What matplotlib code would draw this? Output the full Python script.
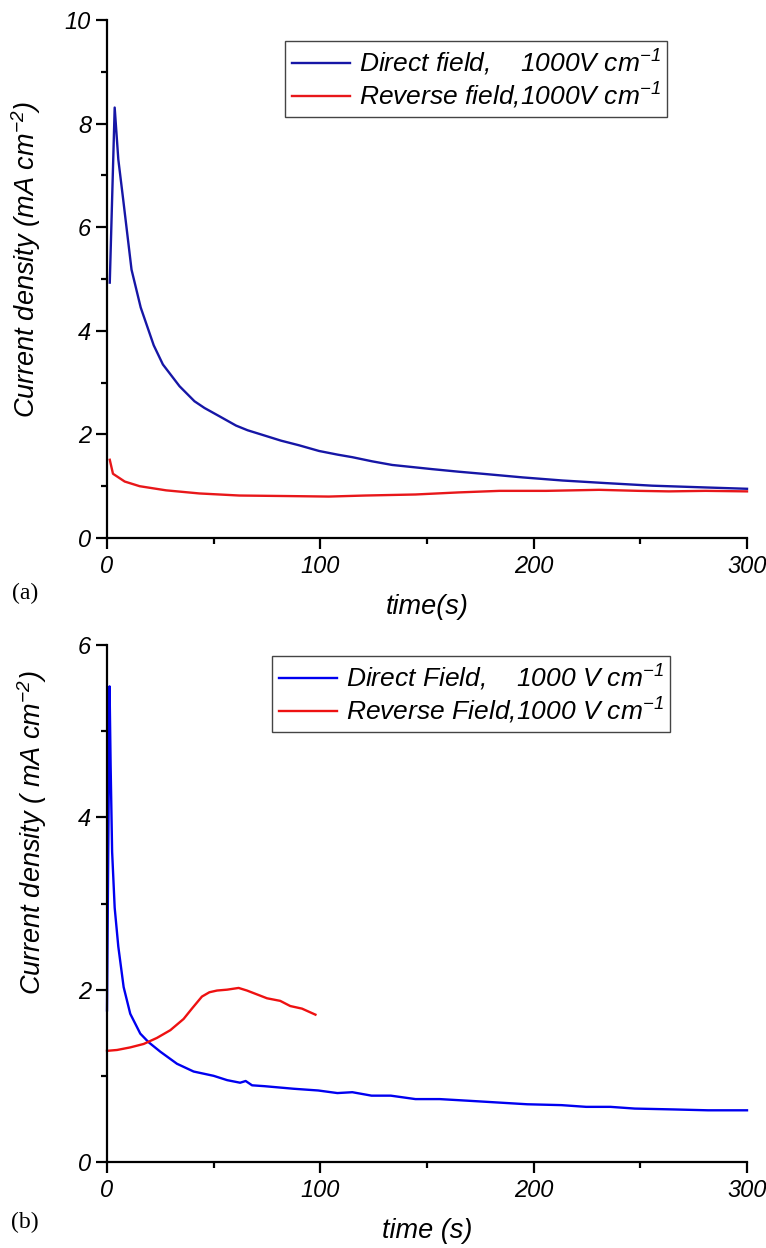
import numpy as np
import matplotlib
matplotlib.use("Agg")
import matplotlib.pyplot as plt
from matplotlib.ticker import MultipleLocator

# fonte tipo Arial italico (Origin)
plt.rcParams["font.family"] = "Liberation Sans"
plt.rcParams["font.style"] = "italic"
plt.rcParams["mathtext.fontset"] = "custom"
plt.rcParams["mathtext.rm"] = "Liberation Sans:italic"
plt.rcParams["mathtext.it"] = "Liberation Sans:italic"
plt.rcParams["mathtext.default"] = "it"

# ---- painel (a) ----
t_dir_a = [1.3, 3.6, 5.3, 7.6, 11.5, 15.8, 21.9, 26.2, 34, 41, 45.7, 52.7, 60.5, 65.9,
           74.5, 81.5, 90, 99.4, 108, 115, 124.3, 133.7, 143, 152.3, 164.8, 176,
           194.8, 213.5, 233.8, 255.6, 277.5, 300]
j_dir_a = [4.93, 8.31, 7.31, 6.53, 5.18, 4.45, 3.72, 3.35, 2.93, 2.64, 2.51, 2.35, 2.17, 2.08,
           1.97, 1.88, 1.79, 1.68, 1.61, 1.56, 1.48, 1.41, 1.37, 1.33, 1.28, 1.24,
           1.17, 1.11, 1.06, 1.01, 0.98, 0.95]

t_rev_a = [1.3, 2.8, 8.3, 15.3, 27.7, 43.3, 62, 83.8, 104, 121, 144.6, 164.8, 184,
           205.8, 230.7, 249.4, 263.4, 280.6, 300]
j_rev_a = [1.51, 1.24, 1.09, 1.0, 0.92, 0.86, 0.82, 0.81, 0.80, 0.82, 0.84, 0.88, 0.91,
           0.91, 0.93, 0.91, 0.90, 0.91, 0.90]

# ---- painel (b) ----
t_dir_b = [0, 1.2, 1.7, 2.4, 3.6, 5.3, 7.8, 10.9, 15.6, 19.5, 25, 32.8, 40.6, 50, 56.3,
           62.4, 65, 68, 73.8, 87.5, 99, 108, 115, 124, 133, 144.6, 156, 170, 183.5,
           197, 213, 224.6, 236, 247.4, 265.7, 281.7, 300]
j_dir_b = [1.76, 5.52, 4.6, 3.6, 2.95, 2.5, 2.03, 1.72, 1.49, 1.39, 1.28, 1.14, 1.05, 1.0, 0.95,
           0.92, 0.94, 0.89, 0.88, 0.85, 0.83, 0.80, 0.81, 0.77, 0.77, 0.73, 0.73, 0.71, 0.69,
           0.67, 0.66, 0.64, 0.64, 0.62, 0.61, 0.60, 0.60]

t_rev_b = [0, 4.7, 10.9, 17.2, 23.4, 29.7, 35.9, 39.8, 44.5, 48, 51.6, 56.3, 61.7, 65.6,
           75, 81.2, 85.9, 91.4, 97.7]
j_rev_b = [1.29, 1.30, 1.33, 1.37, 1.44, 1.53, 1.66, 1.78, 1.92, 1.97, 1.99, 2.0, 2.02, 1.99,
           1.90, 1.87, 1.81, 1.78, 1.71]

W, H = 766, 1248
fig = plt.figure(figsize=(W / 100, H / 100), dpi=100)

ax1 = fig.add_axes([107 / W, 1 - 538 / H, 640 / W, 518 / H])
ax2 = fig.add_axes([107 / W, 1 - 1162 / H, 640 / W, 517 / H])


def estilo(ax, ymax):
    ax.set_xlim(0, 300)
    ax.set_ylim(0, ymax)
    ax.spines["top"].set_visible(False)
    ax.spines["right"].set_visible(False)
    for s in ["left", "bottom"]:
        ax.spines[s].set_linewidth(1.6)
    ax.xaxis.set_major_locator(MultipleLocator(100))
    ax.xaxis.set_minor_locator(MultipleLocator(50))
    ax.yaxis.set_major_locator(MultipleLocator(2))
    ax.yaxis.set_minor_locator(MultipleLocator(1))
    ax.tick_params(which="major", direction="out", length=8, width=1.6, labelsize=17)
    ax.tick_params(which="minor", direction="out", length=4.5, width=1.6)
    ax.tick_params(axis="y", pad=3.5)
    ax.tick_params(axis="x", pad=4)


estilo(ax1, 10)
ax1.plot(t_dir_a, j_dir_a, color="#1616a6", lw=1.7,
         label="Direct field,    1000V cm$^{-1}$", clip_on=False)
ax1.plot(t_rev_a, j_rev_a, color="#e8171a", lw=1.7,
         label="Reverse field,1000V cm$^{-1}$", clip_on=False)
ax1.set_xlabel("time(s)", fontsize=19.5, va="top")
ax1.xaxis.set_label_coords(0.5, -0.108)
ax1.set_ylabel("Current density (mA cm$^{-2}$)", fontsize=19.5)
ax1.yaxis.set_label_coords(-0.100, 0.537)
leg1 = ax1.legend(loc="upper left", bbox_to_anchor=(285 / W, 1 - 41 / H),
                  bbox_transform=fig.transFigure, borderaxespad=0, fontsize=19,
                  handlelength=2.2, handletextpad=0.35, borderpad=0.25, labelspacing=0.1,
                  fancybox=False, framealpha=1)
leg1.get_frame().set_edgecolor("#444444")
leg1.get_frame().set_linewidth(1.0)

estilo(ax2, 6)
ax2.plot(t_dir_b, j_dir_b, color="#0000f0", lw=1.7,
         label="Direct Field,    1000 V cm$^{-1}$", clip_on=False)
ax2.plot(t_rev_b, j_rev_b, color="#ee1111", lw=1.7,
         label="Reverse Field,1000 V cm$^{-1}$", clip_on=False)
ax2.set_xlabel("time (s)", fontsize=19.5, va="top")
ax2.xaxis.set_label_coords(0.5, -0.108)
ax2.set_ylabel("Current density ( mA cm$^{-2}$)", fontsize=19.5)
ax2.yaxis.set_label_coords(-0.090, 0.636)
leg2 = ax2.legend(loc="upper left", bbox_to_anchor=(272 / W, 1 - 656 / H),
                  bbox_transform=fig.transFigure, borderaxespad=0, fontsize=19,
                  handlelength=2.2, handletextpad=0.35, borderpad=0.25, labelspacing=0.1,
                  fancybox=False, framealpha=1)
leg2.get_frame().set_edgecolor("#444444")
leg2.get_frame().set_linewidth(1.0)

fig.text(25 / W, 1 - 593 / H, "(a)", family="Liberation Serif", style="normal",
         fontsize=17, ha="center", va="center")
fig.text(25 / W, 1 - 1222 / H, "(b)", family="Liberation Serif", style="normal",
         fontsize=17, ha="center", va="center")

plt.savefig("out.png", dpi=100)
plt.close()
